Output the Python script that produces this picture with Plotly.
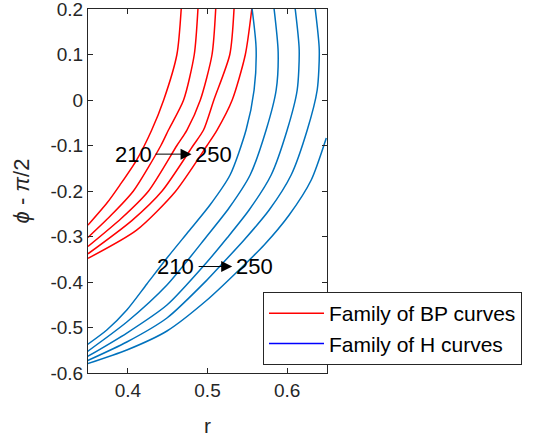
import plotly.graph_objects as go

# Red family (BP curves): x = r, y = phi - pi/2
bp1_r = [0.467, 0.4616, 0.445, 0.430, 0.411, 0.390, 0.374, 0.350]
bp1_p = [0.2, 0.1, 0.0, -0.066, -0.132, -0.187, -0.226, -0.275]
bp2_r = [0.488, 0.4834, 0.470, 0.451, 0.4415, 0.407, 0.378, 0.350]
bp2_p = [0.2, 0.1, 0.0, -0.066, -0.1, -0.2, -0.255, -0.302]
bp3_r = [0.5103, 0.5057, 0.491, 0.4742, 0.4616, 0.426, 0.392, 0.350]
bp3_p = [0.2, 0.1, 0.0, -0.066, -0.1, -0.2, -0.26, -0.322]
bp4_r = [0.5333, 0.528, 0.508, 0.495, 0.482, 0.443, 0.405, 0.350]
bp4_p = [0.2, 0.1, 0.0, -0.066, -0.1, -0.2, -0.265, -0.338]
bp5_r = [0.5556, 0.5475, 0.531, 0.512, 0.4994, 0.4595, 0.411, 0.350]
bp5_p = [0.2, 0.1, 0.0, -0.066, -0.1, -0.2015, -0.286, -0.348]

# Blue family (H curves)
h1_r = [0.5560, 0.5610, 0.5585, 0.5484, 0.5283, 0.5031, 0.4767, 0.4491, 0.4239, 0.3987, 0.3736, 0.3484]
h1_p = [0.2, 0.1143, 0.0220, -0.0659, -0.1648, -0.2308, -0.2879, -0.3473, -0.4044, -0.4615, -0.5055, -0.5385]
h2_r = [0.5836, 0.5887, 0.5862, 0.5736, 0.5535, 0.5270, 0.4994, 0.4491, 0.3987, 0.3484]
h2_p = [0.2, 0.1055, 0.0220, -0.0659, -0.1648, -0.2374, -0.2989, -0.4066, -0.4879, -0.5538]
h3_r = [0.6101, 0.6151, 0.6126, 0.6000, 0.5799, 0.5522, 0.5245, 0.4994, 0.4491, 0.3987, 0.3484]
h3_p = [0.2, 0.1099, 0.0220, -0.0659, -0.1648, -0.2418, -0.3033, -0.3560, -0.4505, -0.5121, -0.5648]
h4_r = [0.6352, 0.6403, 0.6377, 0.6252, 0.6050, 0.5774, 0.5459, 0.5170, 0.4994, 0.4491, 0.3987, 0.3484]
h4_p = [0.2, 0.1099, 0.0220, -0.0659, -0.1648, -0.2418, -0.3077, -0.3626, -0.3956, -0.4791, -0.5319, -0.5736]
h5_r = [0.6491, 0.6302, 0.6025, 0.5711, 0.5396, 0.4994, 0.4491, 0.3987, 0.3484]
h5_p = [-0.0835, -0.1758, -0.2527, -0.3187, -0.3736, -0.4396, -0.5077, -0.5495, -0.5802]

bp_curves = [(bp1_r, bp1_p), (bp2_r, bp2_p), (bp3_r, bp3_p), (bp4_r, bp4_p), (bp5_r, bp5_p)]
h_curves = [(h1_r, h1_p), (h2_r, h2_p), (h3_r, h3_p), (h4_r, h4_p), (h5_r, h5_p)]

legend_names = ["Family of BP curves", "Family of H curves"]
x_ticks = [0.4, 0.5, 0.6]
y_ticks = [0.2, 0.1, 0, -0.1, -0.2, -0.3, -0.4, -0.5, -0.6]

RED = "#FF0000"
BLUE = "#0072BD"
AX = "#262626"
FONT = "Liberation Sans, Arial, sans-serif"

fig = go.Figure()
for r, p in bp_curves:
    fig.add_trace(go.Scatter(x=r, y=p, mode="lines",
                             line=dict(color=RED, width=1.5, shape="spline", smoothing=0.7),
                             showlegend=False, hoverinfo="skip"))
for r, p in h_curves:
    fig.add_trace(go.Scatter(x=r, y=p, mode="lines",
                             line=dict(color=BLUE, width=1.5, shape="spline", smoothing=0.7),
                             showlegend=False, hoverinfo="skip"))
fig.add_trace(go.Scatter(x=[None], y=[None], mode="lines", line=dict(color=RED, width=1.5),
                         name=legend_names[0]))
fig.add_trace(go.Scatter(x=[None], y=[None], mode="lines", line=dict(color="#0000FF", width=1.5),
                         name=legend_names[1]))

# labels with arrows
labels = [
    dict(x0=0.4075, x1=0.507, y=-0.119, a0=0.433, a1=0.480),
    dict(x0=0.460, x1=0.5585, y=-0.366, a0=0.487, a1=0.531),
]
for L in labels:
    fig.add_annotation(x=L["x0"], y=L["y"], text="210", showarrow=False,
                       font=dict(family=FONT, size=22, color="black"))
    fig.add_annotation(x=L["x1"], y=L["y"], text="250", showarrow=False,
                       font=dict(family=FONT, size=22, color="black"))
    fig.add_annotation(x=L["a1"], y=L["y"], ax=L["a0"], ay=L["y"], xref="x", yref="y",
                       axref="x", ayref="y", text="", showarrow=True, arrowhead=2,
                       arrowsize=2.2, arrowwidth=1, arrowcolor="black")

fig.update_layout(
    width=533, height=442,
    margin=dict(l=88, r=206, t=9, b=69),
    paper_bgcolor="white", plot_bgcolor="white",
    font=dict(family=FONT, size=19, color=AX),
    showlegend=True,
    legend=dict(x=1.0 + (263 - 327) / 239.0, y=(373 - 292) / 364.0, xanchor="left", yanchor="top",
                bordercolor=AX, borderwidth=1, bgcolor="white",
                font=dict(family=FONT, size=21, color="black"),
                tracegroupgap=0, itemwidth=55),
)
fig.update_xaxes(range=[0.35, 0.65], tickvals=x_ticks, ticktext=[str(v) for v in x_ticks],
                 ticks="inside", ticklen=5, tickcolor=AX, mirror="allticks", showline=True,
                 linecolor=AX, linewidth=1, showgrid=False, zeroline=False,
                 ticklabeloverflow="allow", automargin=False,
                 title=dict(text="r", font=dict(family=FONT, size=21, color=AX), standoff=18))
fig.update_yaxes(range=[-0.6, 0.2], tickvals=y_ticks, ticktext=[("%g" % v) for v in y_ticks],
                 ticks="inside", ticklen=5, tickcolor=AX, mirror="allticks", showline=True,
                 linecolor=AX, linewidth=1, showgrid=False, zeroline=False,
                 ticklabeloverflow="allow", automargin=False,
                 title=dict(text="<i>ϕ</i> - <i>π</i>/2", font=dict(family=FONT, size=22, color=AX),
                            standoff=14))

fig.write_html("out.html")
